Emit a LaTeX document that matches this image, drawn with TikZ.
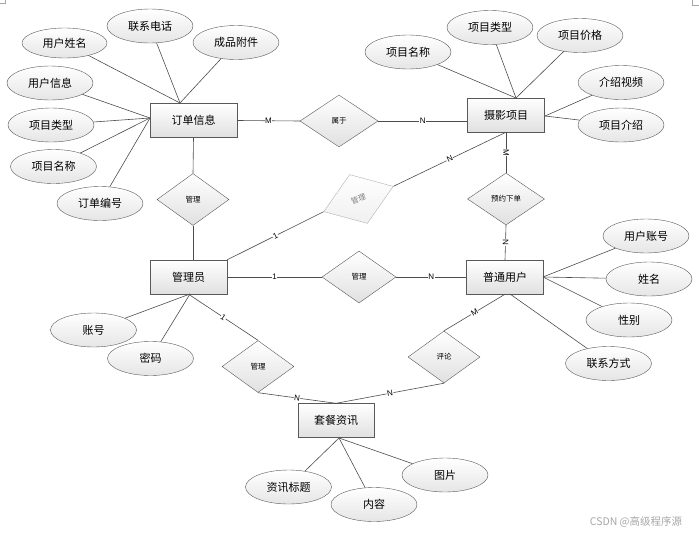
\documentclass[tikz,border=0pt]{standalone}
\usepackage{fontspec}
\setmainfont{Liberation Sans}
\newfontfamily\cjk{Noto Sans CJK SC}
\usetikzlibrary{shapes.geometric}

\begin{document}
\begin{tikzpicture}[x=1pt,y=-1pt]
  \tikzstyle{entity}=[rectangle,draw=black!65,top color=white,bottom color=black!12,minimum width=77pt,minimum height=34pt,inner sep=0pt,font=\fontsize{11}{13}\selectfont\cjk]
  \tikzstyle{attr}=[ellipse,draw=black!65,top color=white,bottom color=black!10,minimum width=86pt,minimum height=34pt,inner sep=0pt,font=\fontsize{11}{13}\selectfont\cjk]
  \tikzstyle{rel}=[diamond,draw=black!65,top color=white,bottom color=black!12,minimum width=74pt,minimum height=52pt,inner sep=0pt,aspect=1.4,font=\fontsize{7.5}{9}\selectfont\cjk]
  \tikzstyle{card}=[fill=white,inner sep=0.5pt,font=\fontsize{8}{9}\selectfont]
  \tikzstyle{link}=[draw=black!70,line width=0.6pt]
  \useasboundingbox (0,0) rectangle (699,538);
  \draw[black!35,line width=0.4pt] (0,3) -- (5,3) -- (5,0);
  \draw[black!35,line width=0.4pt] (692,0) -- (692,5) -- (699,5);

  \node[entity,minimum width=87pt] (dingdan) at (193.5,120.5) {订单信息};
  \node[entity] (sheying) at (506,115) {摄影项目};
  \node[entity] (guanliyuan) at (188.5,277) {管理员};
  \node[entity] (putong) at (505,277) {普通用户};
  \node[entity,minimum width=76pt] (taocan) at (336,420.5) {套餐资讯};

  \node[rel,minimum width=78pt] (shuyu) at (339,121) {属于};
  \node[rel,minimum width=72pt] (guanliA) at (193,199.5) {管理};
  \node[rel,rotate=20,draw=black!30,bottom color=black!6,text=black!50] (guanliB) at (358.5,199) {管理};
  \node[rel] (guanliC) at (359,277) {管理};
  \node[rel,minimum width=72pt] (guanliD) at (258,366.5) {管理};
  \node[rel,minimum width=77pt] (yuyue) at (506,199) {预约下单};
  \node[rel,minimum width=72pt] (pinglun) at (444,357) {评论};

  \node[attr,minimum width=85pt,minimum height=30pt] (ddName) at (64.5,43) {用户姓名};
  \node[attr] (ddTel) at (150,26) {联系电话};
  \node[attr] (ddFile) at (236,42.5) {成品附件};
  \node[attr] (ddUser) at (50,83) {用户信息};
  \node[attr] (ddType) at (51,125) {项目类型};
  \node[attr] (ddProj) at (53.5,166.5) {项目名称};
  \node[attr] (ddNo) at (100,203.5) {订单编号};

  \node[attr] (syName) at (408,52) {项目名称};
  \node[attr] (syType) at (490,27.5) {项目类型};
  \node[attr] (syPrice) at (580,35.5) {项目价格};
  \node[attr] (syVideo) at (621,82.5) {介绍视频};
  \node[attr] (syIntro) at (621,125) {项目介绍};

  \node[attr] (ptAcc) at (646,236) {用户账号};
  \node[attr] (ptName) at (649,279) {姓名};
  \node[attr] (ptSex) at (629,320) {性别};
  \node[attr] (ptTel) at (608.5,363.5) {联系方式};

  \node[attr] (glAcc) at (93.5,330) {账号};
  \node[attr] (glPwd) at (150.5,358.5) {密码};

  \node[attr] (tcTitle) at (288.5,487) {资讯标题};
  \node[attr] (tcBody) at (374,504.5) {内容};
  \node[attr] (tcPic) at (445,475) {图片};

  \coordinate (ddT) at (180,103);
  \coordinate (ddL) at (150,118);
  \coordinate (syT) at (516,98);
  \coordinate (syR) at (545,116);
  \coordinate (ptR) at (543,277);
  \coordinate (ptB) at (510,294);
  \coordinate (glB) at (190,294);
  \coordinate (tcB) at (339,438);

  \draw[link] (ddName) -- (ddT);
  \draw[link] (ddTel) -- (ddT);
  \draw[link] (ddFile) -- (ddT);
  \draw[link] (ddUser) -- (ddL);
  \draw[link] (ddType) -- (ddL);
  \draw[link] (ddProj) -- (ddL);
  \draw[link] (ddNo) -- (ddL);
  \draw[link] (syName) -- (syT);
  \draw[link] (syType) -- (syT);
  \draw[link] (syPrice) -- (syT);
  \draw[link] (syVideo) -- (syR);
  \draw[link] (syIntro) -- (syR);
  \draw[link] (ptAcc) -- (ptR);
  \draw[link] (ptName) -- (ptR);
  \draw[link] (ptSex) -- (ptR);
  \draw[link] (ptTel) -- (ptB);
  \draw[link] (glAcc) -- (glB);
  \draw[link] (glPwd) -- (glB);
  \draw[link] (tcTitle) -- (tcB);
  \draw[link] (tcBody) -- (tcB);
  \draw[link] (tcPic) -- (tcB);

  \draw[link] (dingdan.east) -- node[card] {M} (shuyu.west);
  \draw[link] (shuyu.east) -- node[card] {N} (shuyu.east -| sheying.west);
  \draw[link] (dingdan.south) -- (guanliA.north);
  \draw[link] (guanliA.south) -- (guanliA.south |- guanliyuan.north);
  \draw[link] (guanliyuan.north east) -- node[card,sloped] {1} (guanliB.west);
  \draw[link] (guanliB.east) -- node[card,sloped] {N} (sheying.south);
  \draw[link] (sheying.south) -- node[card,rotate=-90] {M} (yuyue.north);
  \draw[link] (yuyue.south) -- node[card,rotate=-90] {N} (putong.north);
  \draw[link] (guanliyuan.east) -- node[card] {1} (guanliC.west);
  \draw[link] (guanliC.east) -- node[card] {N} (putong.west);
  \draw[link] (guanliyuan.south) -- node[card,sloped] {1} (guanliD.north);
  \draw[link] (guanliD.south) -- node[card,sloped] {N} (taocan.north);
  \draw[link] (pinglun.south) -- node[card,sloped] {N} (taocan.north);
  \draw[link] (pinglun.north) -- node[card,sloped] {M} (putong.south);

  \node[text=black!35,font=\fontsize{10.5}{12}\selectfont\cjk] (wm) at (636,522) {CSDN @高级程序源};
\end{tikzpicture}
\end{document}
